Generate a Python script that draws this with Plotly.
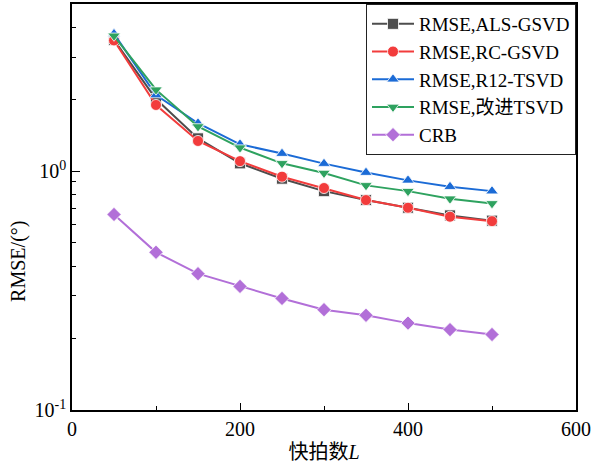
import plotly.graph_objects as go

snapshots = [50, 100, 150, 200, 250, 300, 350, 400, 450, 500]
rmse_als_gsvd = [3.54, 2.00, 1.37, 1.077, 0.929, 0.824, 0.756, 0.702, 0.652, 0.620]
rmse_rc_gsvd = [3.52, 1.89, 1.336, 1.10, 0.947, 0.849, 0.756, 0.702, 0.644, 0.617]
rmse_r12_tsvd = [3.75, 2.08, 1.585, 1.294, 1.183, 1.074, 0.985, 0.914, 0.860, 0.824]
rmse_improved_tsvd = [3.68, 2.19, 1.536, 1.253, 1.077, 0.981, 0.871, 0.824, 0.766, 0.732]
crb = [0.658, 0.457, 0.372, 0.329, 0.293, 0.263, 0.249, 0.231, 0.217, 0.207]

series = [
    ("RMSE,ALS-GSVD", rmse_als_gsvd, "#4d4d4d", "square"),
    ("RMSE,RC-GSVD", rmse_rc_gsvd, "#f23c3c", "circle"),
    ("RMSE,R12-TSVD", rmse_r12_tsvd, "#1b6bd6", "triangle-up"),
    ("RMSE,改进TSVD", rmse_improved_tsvd, "#2ea25f", "triangle-down"),
    ("CRB", crb, "#b26fd8", "diamond"),
]

fig = go.Figure()
for name, ys, color, sym in series:
    fig.add_trace(go.Scatter(
        x=snapshots, y=ys, name=name, mode="lines+markers",
        line=dict(color=color, width=2),
        marker=dict(symbol=sym, size=11, color=color, line=dict(color="white", width=0.8)),
    ))

serif = "Liberation Serif, Times New Roman, Noto Sans CJK SC, serif"
fig.update_layout(
    width=599, height=468,
    margin=dict(l=72, r=23, t=4, b=58),
    paper_bgcolor="white", plot_bgcolor="white",
    font=dict(family=serif, size=19, color="black"),
    legend=dict(
        x=1, y=1, xanchor="right", yanchor="top",
        bordercolor="#222", borderwidth=1, bgcolor="white",
        font=dict(family=serif, size=19),
        tracegroupgap=0, itemwidth=42,
    ),
    showlegend=True,
    annotations=[dict(
        text="RMSE/(°)", xref="paper", yref="paper", x=-0.105, y=0.365,
        xanchor="center", yanchor="middle", textangle=-90, showarrow=False,
        font=dict(family=serif, size=20, color="black"),
    )],
)
fig.update_xaxes(
    range=[0, 600], tickvals=[0, 200, 400, 600], automargin=False,
    ticks="inside", ticklen=7, tickwidth=1.3, tickcolor="black",
    minor=dict(tickvals=[100, 300, 500], ticks="inside", ticklen=4, tickcolor="black"),
    showline=True, linecolor="black", linewidth=1.5, mirror=True,
    showgrid=False, zeroline=False,
    title=dict(text="快拍数<i>L</i>", font=dict(family=serif, size=20), standoff=6),
    tickfont=dict(family=serif, size=20),
)
fig.update_yaxes(
    type="log", range=[-1, 0.699], automargin=False,
    tickvals=[0.1, 1], ticktext=["10<sup>-1</sup>", "10<sup>0</sup>"],
    ticks="inside", ticklen=8, tickwidth=1.3, tickcolor="black",
    minor=dict(tickvals=[0.2, 0.3, 0.4, 0.5, 0.6, 0.7, 0.8, 0.9, 2, 3, 4],
               ticks="inside", ticklen=4, tickcolor="black"),
    showline=True, linecolor="black", linewidth=1.5, mirror=True,
    showgrid=False, zeroline=False,
    tickfont=dict(family=serif, size=20),
)
fig.write_html(
    "out.html",
    config={"displayModeBar": False},
    post_script="document.body.style.margin='0';document.body.style.padding='0';document.body.style.overflow='hidden';",
)
